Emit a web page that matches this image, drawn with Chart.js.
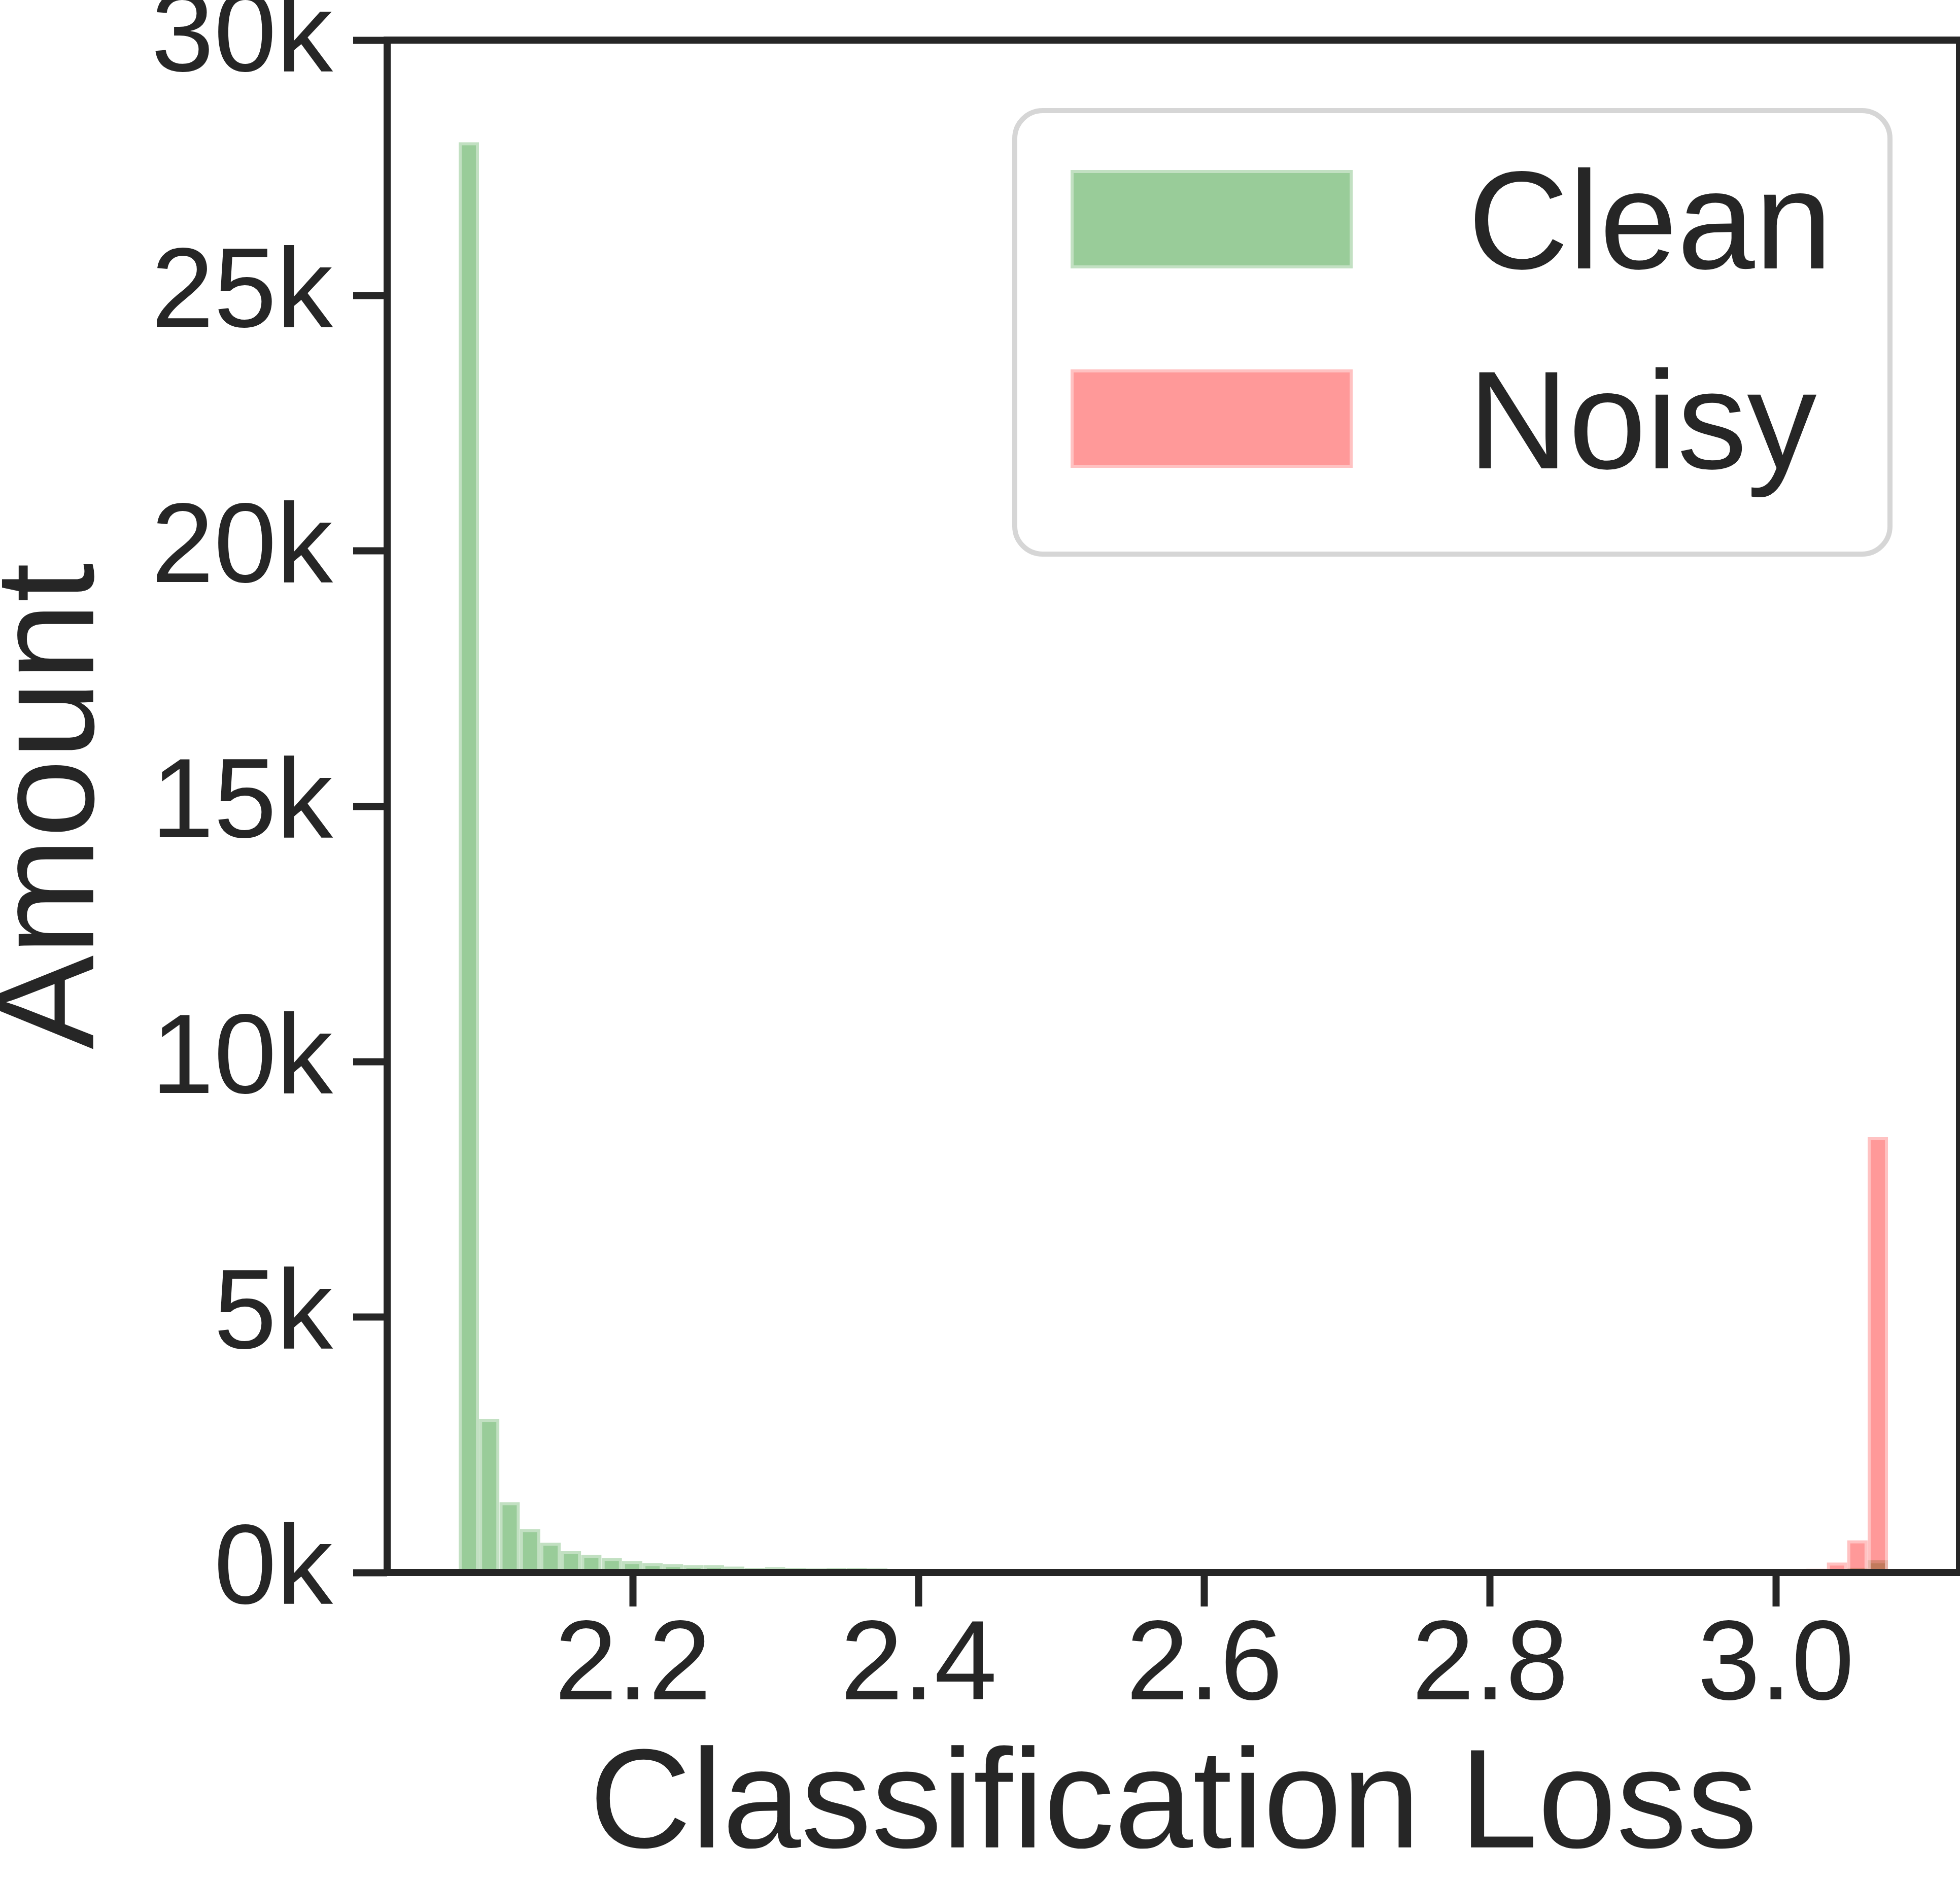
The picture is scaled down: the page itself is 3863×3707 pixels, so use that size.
<!DOCTYPE html>
<html>
<head>
<meta charset="utf-8">
<script src="https://cdn.jsdelivr.net/npm/chart.js@4.4.1/dist/chart.umd.min.js"></script>
<style>
  html, body { margin: 0; padding: 0; background: #ffffff; }
  canvas { display: block; }
</style>
</head>
<body>
<canvas id="c" width="3863" height="3707" style="width:3863px;height:3707px"></canvas>
<script>
// ---------------- data ----------------
const binLow = 2.078;      // left edge of first histogram bin
const binHigh = 3.0785;    // right edge of last histogram bin
const binCount = 70;

const seriesNames = ['Clean', 'Noisy'];

const cleanCounts = [
  28000, 3007, 1378, 851, 583, 417, 348, 285, 225, 186,
  166, 146, 146, 116, 89, 106, 89, 79, 89, 89,
  79, 58, 52, 47, 41, 38, 35, 31, 29, 26,
  24, 22, 21, 19, 17, 16, 15, 13, 13, 12,
  11, 11, 10, 9, 10, 8, 9, 8, 7, 8,
  8, 7, 8, 9, 8, 9, 10, 9, 11, 12,
  12, 14, 15, 17, 19, 22, 27, 40, 92, 238
];

const noisyCounts = [
  0, 0, 0, 0, 0, 0, 0, 0, 0, 0,
  0, 0, 0, 0, 0, 0, 0, 0, 0, 0,
  0, 0, 0, 0, 0, 1, 0, 0, 1, 0,
  1, 0, 1, 1, 0, 1, 1, 1, 2, 1,
  2, 2, 2, 3, 2, 3, 3, 4, 4, 5,
  5, 6, 6, 7, 8, 9, 10, 12, 13, 15,
  17, 20, 24, 29, 36, 45, 75, 196, 630, 8523
];

const xTickValues = [2.2, 2.4, 2.6, 2.8, 3.0];
const xTickLabels = ['2.2', '2.4', '2.6', '2.8', '3.0'];
const yTickValues = [0, 5000, 10000, 15000, 20000, 25000, 30000];
const yTickLabels = ['0k', '5k', '10k', '15k', '20k', '25k', '30k'];

const xAxisTitle = 'Classification Loss';
const yAxisTitle = 'Amount';

// ---------------- helpers ----------------
const binWidth = (binHigh - binLow) / binCount;
const binCenters = cleanCounts.map((_, i) => binLow + binWidth * (i + 0.5));
const margin = (binHigh - binLow) * 0.05;

const FONT = "'Liberation Sans', Arial, Helvetica, sans-serif";
const INK = '#262626';

const cleanFill = 'rgba(0,128,0,0.4)';
const cleanEdge = 'rgba(159,207,159,0.64)';
const noisyFill = 'rgba(255,0,0,0.4)';
const noisyEdge = 'rgba(255,159,159,0.64)';

// frame (spines) drawn over the bars
const spinePlugin = {
  id: 'spines',
  afterDatasetsDraw(chart) {
    const {ctx, chartArea: a} = chart;
    ctx.save();
    ctx.strokeStyle = INK;
    ctx.lineWidth = 14;
    ctx.lineJoin = 'miter';
    ctx.strokeRect(a.left, a.top, a.right - a.left, a.bottom - a.top);
    ctx.restore();
  }
};

function roundRectPath(ctx, x, y, w, h, r) {
  ctx.moveTo(x + r, y);
  ctx.lineTo(x + w - r, y);
  ctx.arcTo(x + w, y, x + w, y + r, r);
  ctx.lineTo(x + w, y + h - r);
  ctx.arcTo(x + w, y + h, x + w - r, y + h, r);
  ctx.lineTo(x + r, y + h);
  ctx.arcTo(x, y + h, x, y + h - r, r);
  ctx.lineTo(x, y + r);
  ctx.arcTo(x, y, x + r, y, r);
  ctx.closePath();
}

// legend box in the upper right of the plot
const legendPlugin = {
  id: 'boxLegend',
  afterDraw(chart) {
    const {ctx} = chart;
    const box = {x: 2000, y: 218, w: 1725, h: 874, r: 55};
    ctx.save();
    ctx.beginPath();
    roundRectPath(ctx, box.x, box.y, box.w, box.h, box.r);
    ctx.fillStyle = 'rgba(255,255,255,0.8)';
    ctx.fill();
    ctx.lineWidth = 10;
    ctx.strokeStyle = '#d6d6d6';
    ctx.stroke();

    const rows = [
      {patchY: 335, baseline: 529},
      {patchY: 728, baseline: 923}
    ];
    const px = 2110, pw = 556, ph = 194, bw = 6;
    chart.data.datasets.forEach((ds, i) => {
      const r = rows[i];
      // border ring
      ctx.beginPath();
      ctx.rect(px, r.patchY, pw, ph);
      ctx.rect(px + bw, r.patchY + bw, pw - 2 * bw, ph - 2 * bw);
      ctx.fillStyle = ds.borderColor;
      ctx.fill('evenodd');
      ctx.beginPath();
      ctx.rect(px + bw, r.patchY + bw, pw - 2 * bw, ph - 2 * bw);
      ctx.fillStyle = ds.backgroundColor;
      ctx.fill();
      // label
      ctx.fillStyle = INK;
      ctx.font = '275px ' + FONT;
      ctx.textAlign = 'left';
      ctx.textBaseline = 'alphabetic';
      ctx.fillText(ds.label, 2893, r.baseline);
    });
    ctx.restore();
  }
};

new Chart(document.getElementById('c'), {
  type: 'bar',
  data: {
    datasets: [
      {
        label: seriesNames[0],
        data: binCenters.map((x, i) => ({x: x, y: cleanCounts[i]})),
        backgroundColor: cleanFill,
        borderColor: cleanEdge,
        borderWidth: 6,
        order: 2
      },
      {
        label: seriesNames[1],
        data: binCenters.map((x, i) => ({x: x, y: noisyCounts[i]})),
        backgroundColor: noisyFill,
        borderColor: noisyEdge,
        borderWidth: 6,
        order: 1
      }
    ]
  },
  options: {
    responsive: false,
    maintainAspectRatio: false,
    devicePixelRatio: 1,
    animation: false,
    events: [],
    layout: {padding: {left: 0, top: 79, right: 1, bottom: 0}},
    datasets: {
      bar: {
        grouped: false,
        barPercentage: 1,
        categoryPercentage: 1,
        inflateAmount: 0,
        borderSkipped: 'start'
      }
    },
    plugins: {
      legend: {display: false},
      tooltip: {enabled: false},
      title: {display: false}
    },
    scales: {
      x: {
        type: 'linear',
        min: binLow - margin,
        max: binHigh + margin,
        offset: false,
        afterBuildTicks: (s) => { s.ticks = xTickValues.map(v => ({value: v})); },
        afterFit: (s) => { s.height = 608; s.paddingLeft = 0; s.paddingRight = 0; },
        grid: {
          display: true, offset: false, drawOnChartArea: false, drawTicks: true,
          tickLength: 67, tickWidth: 14, tickColor: INK
        },
        border: {display: false},
        ticks: {
          autoSkip: false, maxRotation: 0, minRotation: 0,
          padding: 11, color: INK,
          font: {family: FONT, size: 222, lineHeight: 1},
          callback: (v, i) => xTickLabels[i]
        },
        title: {
          display: true, text: xAxisTitle, color: INK,
          font: {family: FONT, size: 278, lineHeight: 1},
          padding: {top: 0, bottom: 4}
        }
      },
      y: {
        type: 'linear',
        min: 0,
        max: 30000,
        afterBuildTicks: (s) => { s.ticks = yTickValues.map(v => ({value: v})); },
        afterFit: (s) => { s.width = 763; s.paddingTop = 0; s.paddingBottom = 0; },
        grid: {
          display: true, drawOnChartArea: false, drawTicks: true,
          tickLength: 67, tickWidth: 14, tickColor: INK
        },
        border: {display: false},
        ticks: {
          autoSkip: false, padding: 40, color: INK,
          font: {family: FONT, size: 222},
          callback: (v, i) => yTickLabels[i]
        },
        title: {
          display: true, text: yAxisTitle, color: INK,
          font: {family: FONT, size: 278, lineHeight: 0.77},
          padding: {top: 0, bottom: 0}
        }
      }
    }
  },
  plugins: [spinePlugin, legendPlugin]
});
</script>
</body>
</html>
